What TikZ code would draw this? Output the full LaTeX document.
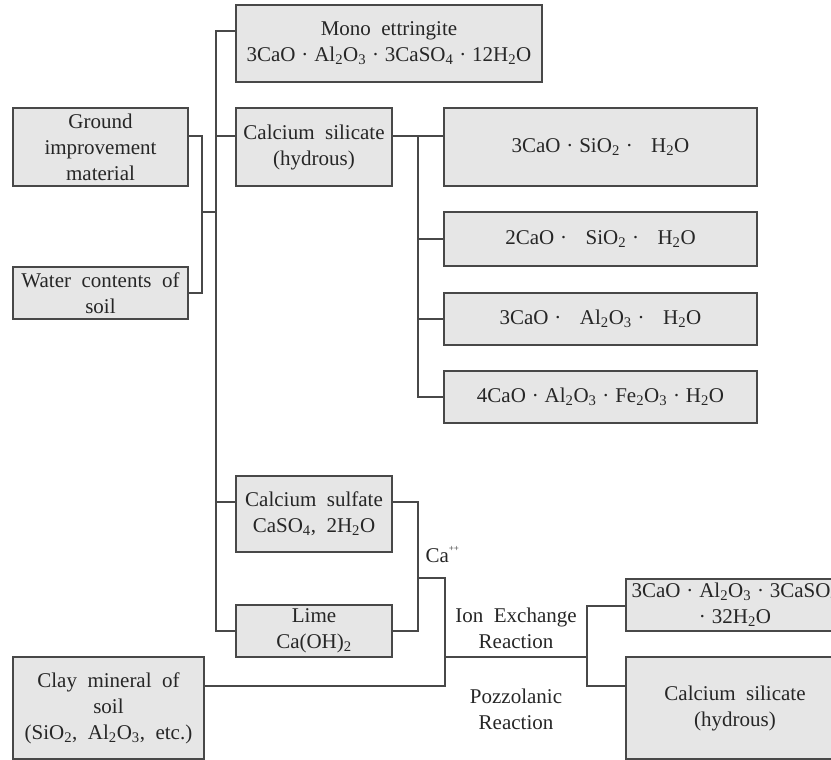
\documentclass[tikz,border=0pt]{standalone}
\usepackage{fontspec}
\setmainfont[WordSpace=2.0]{Liberation Serif}
\usetikzlibrary{calc}
\definecolor{boxgray}{HTML}{E6E6E6}
\definecolor{linegray}{HTML}{484848}
\newcommand{\md}{\hspace{0.28em}·\hspace{0.28em}}
\newcommand{\wgap}{\hspace{0.6em}}
\tikzset{
  box/.style={draw=linegray, fill=boxgray, line width=1.3pt, inner sep=0pt,
    align=center, font=\fontsize{21}{26}\selectfont, text=black!85},
  link/.style={draw=linegray, line width=1.3pt},
  lbl/.style={align=center, font=\fontsize{21}{26}\selectfont, text=black!85}
}

\begin{document}
\begin{tikzpicture}[x=1pt, y=-1pt]
\useasboundingbox (0,0) rectangle (831,760);

% inputs on the left
\node[box, minimum width=175pt, minimum height=78pt] (ground) at (100.5,147) {Ground\\improvement\\material};
\node[box, minimum width=175pt, minimum height=52pt] (water) at (100.5,293) {Water contents of\\soil};
\node[box, minimum width=191pt, minimum height=102pt] (clay) at (108.5,708) {Clay mineral of\\soil\\(SiO\textsubscript{2}, Al\textsubscript{2}O\textsubscript{3}, etc.)};

% hydration products
\node[box, minimum width=306pt, minimum height=77pt] (mono) at (389,43.5) {Mono ettringite\\3CaO\md Al\textsubscript{2}O\textsubscript{3}\md 3CaSO\textsubscript{4}\md 12H\textsubscript{2}O};
\node[box, minimum width=156pt, minimum height=78pt] (casil) at (314,147) {Calcium silicate\\(hydrous)};
\node[box, minimum width=156pt, minimum height=76pt] (sulfate) at (314,514) {Calcium sulfate\\CaSO\textsubscript{4}, 2H\textsubscript{2}O};
\node[box, minimum width=156pt, minimum height=52pt] (lime) at (314,631) {Lime\\Ca(OH)\textsubscript{2}};

% calcium silicate types
\node[box, minimum width=313pt, minimum height=78pt] (cthree) at (600.5,147) {3CaO\md SiO\textsubscript{2}\md\wgap H\textsubscript{2}O};
\node[box, minimum width=313pt, minimum height=54pt] (ctwo) at (600.5,239) {2CaO\md\wgap SiO\textsubscript{2}\md\wgap H\textsubscript{2}O};
\node[box, minimum width=313pt, minimum height=52pt] (calu) at (600.5,319) {3CaO\md\wgap Al\textsubscript{2}O\textsubscript{3}\md\wgap H\textsubscript{2}O};
\node[box, minimum width=313pt, minimum height=52pt] (cfer) at (600.5,397) {4CaO\md Al\textsubscript{2}O\textsubscript{3}\md Fe\textsubscript{2}O\textsubscript{3}\md H\textsubscript{2}O};

% reaction results
\node[box, minimum width=218pt, minimum height=52pt] (ettr) at (735,605) {3CaO\md Al\textsubscript{2}O\textsubscript{3}\md 3CaSO\textsubscript{4}\\·\hspace{0.28em}32H\textsubscript{2}O};
\node[box, minimum width=218pt, minimum height=102pt] (csh) at (735,708) {Calcium silicate\\(hydrous)};

% labels
\node[lbl, anchor=base west] (ca) at (422,562) {Ca\raisebox{1.1ex}{\fontsize{9}{9}\selectfont ++}};
\node[lbl] (ion) at (516,628) {Ion Exchange\\Reaction};
\node[lbl] (pozz) at (516,709) {Pozzolanic\\Reaction};

% junctions
\coordinate (gw) at (202,212);
\coordinate (bus) at (216,212);
\coordinate (cbus) at (418,136);
\coordinate (sj) at (418,578);
\coordinate (rj) at (445,657);
\coordinate (pj) at (587,657);

% connectors
\draw[link] ([yshift=11pt]ground.east) -| (gw) |- (water.east);
\draw[link] (gw) -- (bus);
\draw[link] ([yshift=12.5pt]mono.west) -| (bus) |- (lime.west);
\draw[link] ([yshift=11pt]casil.west) -- ++(-20,0);
\draw[link] ([yshift=12pt]sulfate.west) -- ++(-20,0);

\draw[link] ([yshift=11pt]casil.east) -- ([yshift=11pt]cthree.west);
\draw[link] (cbus) |- (cfer.west);
\draw[link] (ctwo.west) -- (ctwo.west -| cbus);
\draw[link] (calu.west) -- (calu.west -| cbus);

\draw[link] ([yshift=12pt]sulfate.east) -| (sj) |- (lime.east);
\draw[link] ([yshift=22pt]clay.east) -| (sj -| rj) -- (sj);
\draw[link] (rj) -- (pj);
\draw[link] ([yshift=-1pt]ettr.west) -| (pj) |- ([yshift=22pt]csh.west);

\end{tikzpicture}
\end{document}
